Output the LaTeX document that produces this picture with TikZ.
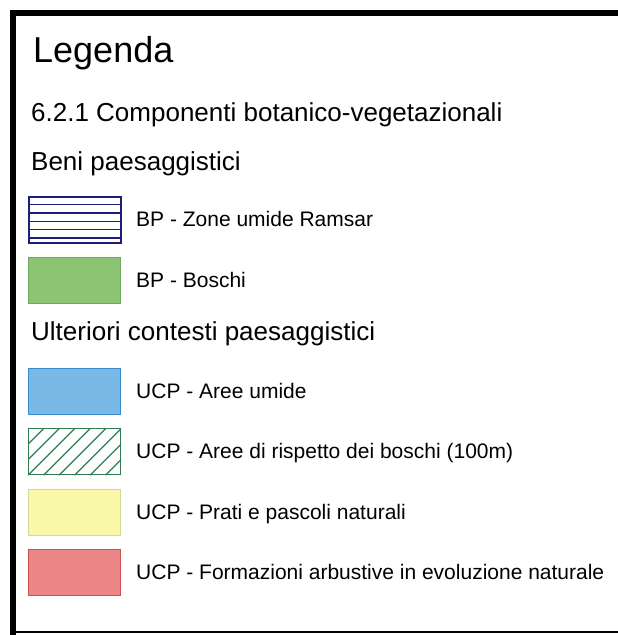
\documentclass[tikz,border=0pt]{standalone}
\usepackage{fontspec}
\setmainfont{Liberation Sans}
\begin{document}
\begin{tikzpicture}[x=1pt,y=-1pt,
  title/.style={anchor=base west,inner sep=0pt,font=\fontsize{36}{40}\selectfont},
  head/.style={anchor=base west,inner sep=0pt,font=\fontsize{26}{30}\selectfont},
  item/.style={anchor=base west,inner sep=0pt,font=\fontsize{21}{25}\selectfont},
  swatch/.style={rectangle,anchor=north west,inner sep=0pt,minimum width=92pt,minimum height=46pt,line width=1.2pt}]
\useasboundingbox (0,0) rectangle (618,635);
\fill[white] (0,0) rectangle (618,635);
% frame
\fill[black] (10,10) rectangle (618,16);
\fill[black] (10,10) rectangle (16,635);
\fill[black] (10,631) rectangle (618,633);
% headings
\node[title] (t) at (33,62) {Legenda};
\node[head] (h1) at (31,121) {6.2.1 Componenti botanico-vegetazionali};
\node[head] (h2) at (31,170) {Beni paesaggistici};
\node[head] (h3) at (31,340) {Ulteriori contesti paesaggistici};
% swatches
\definecolor{navy}{HTML}{1E1E7A}
\definecolor{hatchgreen}{HTML}{2E7D55}
\node[swatch,draw=navy,fill=white,line width=1.6pt] (s1) at (28,196) {};
\foreach \k in {1,...,5} \draw[navy,line width=1.4pt] ([yshift=-8.4*\k pt]s1.north west) -- ([yshift=-8.4*\k pt]s1.north east);
\node[swatch,draw={rgb,255:red,110;green,170;blue,95},fill={rgb,255:red,140;green,196;blue,116}] (s2) at (28,257) {};
\node[swatch,draw={rgb,255:red,58;green,138;blue,200},fill={rgb,255:red,122;green,184;blue,230}] (s3) at (28,368) {};
\node[swatch,draw=hatchgreen,fill=white] (s4) at (28,428) {};
\begin{scope}
\clip (s4.south west) rectangle (s4.north east);
\foreach \i in {-3,...,8} \draw[hatchgreen,line width=1.3pt] ([xshift=\i*15.5pt]s4.south west) -- ++(50,-50);
\end{scope}
\node[swatch,draw=hatchgreen,line width=1.4pt] (s4b) at (28,428) {};
\node[swatch,draw={rgb,255:red,214;green,214;blue,150},fill={rgb,255:red,248;green,248;blue,168}] (s5) at (28,489) {};
\node[swatch,draw={rgb,255:red,204;green,82;blue,82},fill={rgb,255:red,236;green,134;blue,134}] (s6) at (28,549) {};
% labels
\node[item] (l1) at (136,226.5) {BP - Zone umide Ramsar};
\node[item] (l2) at (136,287.5) {BP - Boschi};
\node[item] (l3) at (136,398.5) {UCP - Aree umide};
\node[item] (l4) at (136,458.5) {UCP - Aree di rispetto dei boschi (100m)};
\node[item] (l5) at (136,519.5) {UCP - Prati e pascoli naturali};
\node[item] (l6) at (136,579.5) {UCP - Formazioni arbustive in evoluzione naturale};
\end{tikzpicture}
\end{document}
